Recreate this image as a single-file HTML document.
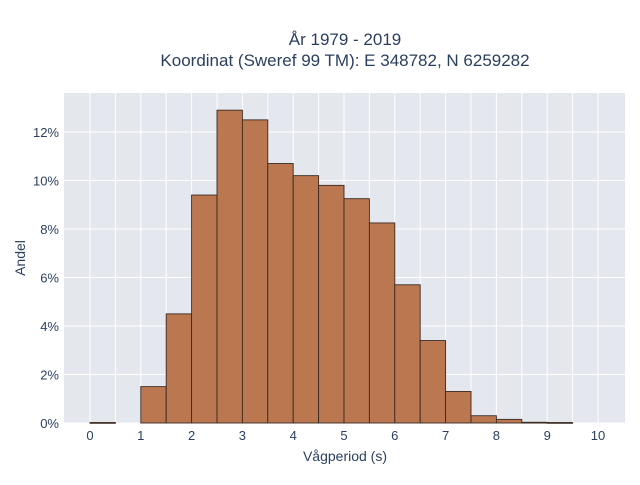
<!DOCTYPE html>
<html><head><meta charset="utf-8"><style>
body{margin:0;background:#fff;font-family:"Liberation Sans",sans-serif;}
svg text{font-family:"Liberation Sans",sans-serif;fill:#2a3f5f;}
</style></head><body>
<svg width="640" height="480" xmlns="http://www.w3.org/2000/svg">
<rect width="640" height="480" fill="#fff"/>
<text x="345" y="45" text-anchor="middle" font-size="17" fill="#333">År 1979 - 2019</text>
<text x="345" y="66" text-anchor="middle" font-size="17" fill="#333">Koordinat (Sweref 99 TM): E 348782, N 6259282</text>
<rect x="64" y="93" width="561" height="330" fill="#e5e7ef"/>
<g id="grid"></g>
<g id="bars"></g>
<g id="xticks"></g>
<g id="yticks"></g>
<text x="345" y="461" text-anchor="middle" font-size="14" fill="#333">Vågperiod (s)</text>
<text transform="translate(25,258) rotate(-90)" text-anchor="middle" font-size="14" fill="#333">Andel</text>
</svg>
<script>
const binStarts=[0,0.5,1,1.5,2,2.5,3,3.5,4,4.5,5,5.5,6,6.5,7,7.5,8,8.5,9,9.5];
const binWidth=0.5;
const shares=[0.02,0,1.5,4.5,9.4,12.9,12.5,10.7,10.2,9.8,9.25,8.25,5.7,3.4,1.3,0.3,0.15,0.03,0.02,0];
const xTicks=[0,1,2,3,4,5,6,7,8,9,10];
const yTicks=[0,2,4,6,8,10,12];
const NS="http://www.w3.org/2000/svg";
const L=64,R=625,T=93,B=423;
const xs=v=>90+v*50.8;
const ys=v=>423-v*24.25;
function mk(tag,attrs,parent){const e=document.createElementNS(NS,tag);for(const k in attrs)e.setAttribute(k,attrs[k]);document.getElementById(parent).appendChild(e);return e;}
for(let v=0;v<=10.001;v+=0.5){const l=mk('line',{x1:xs(v),x2:xs(v),y1:T,y2:B,stroke:'#fff','stroke-width':1},'grid');

}
yTicks.forEach(v=>{const l=mk('line',{x1:L,x2:R,y1:ys(v),y2:ys(v),stroke:'#fff','stroke-width':1},'grid');


const t=mk('text',{x:L-5,y:ys(v)+5,'text-anchor':'end','font-size':13,fill:'#333'},'yticks');t.textContent=v+'%';

});
xTicks.forEach(v=>{const t=mk('text',{x:xs(v),y:440,'text-anchor':'middle','font-size':13,fill:'#333'},'xticks');t.textContent=v;

});
binStarts.forEach((s,i)=>{const h=shares[i];if(h<=0)return;
const r=mk('rect',{x:xs(s),y:ys(h),width:xs(s+binWidth)-xs(s),height:Math.max(ys(0)-ys(h),0.8),fill:'#bb7850',stroke:'#3a2a22','stroke-width':0.9},'bars');

});
</script>
</body></html>
